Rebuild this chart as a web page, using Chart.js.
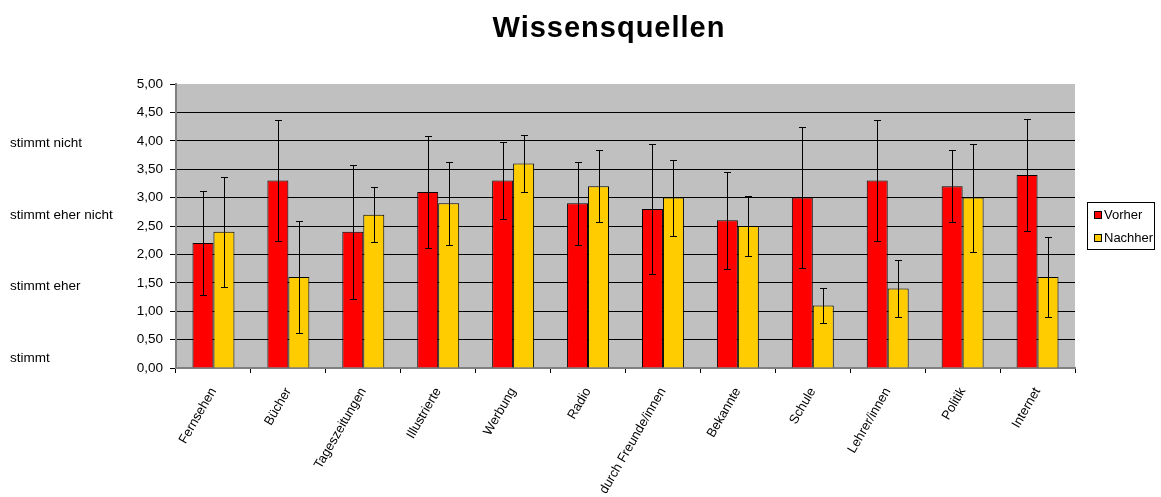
<!DOCTYPE html>
<html>
<head>
<meta charset="utf-8">
<script src="https://cdn.jsdelivr.net/npm/chart.js@4.4.1/dist/chart.umd.min.js"></script>
<style>
  html, body { margin: 0; padding: 0; background: #fff; }
  #wrap { position: relative; width: 1161px; height: 497px; }
</style>
</head>
<body>
<div id="wrap"><canvas id="chart"></canvas></div>
<script>
const FONT = '"Liberation Sans", Arial, sans-serif';

const categories = ['Fernsehen', 'Bücher', 'Tageszeitungen', 'Illustrierte', 'Werbung', 'Radio',
    'durch Freunde/innen', 'Bekannte', 'Schule', 'Lehrer/innen', 'Politik', 'Internet'];

const vorher = [2.2, 3.3, 2.4, 3.1, 3.3, 2.9, 2.8, 2.6, 3.0, 3.3, 3.2, 3.4];
const nachher = [2.4, 1.6, 2.7, 2.9, 3.6, 3.2, 3.0, 2.5, 1.1, 1.4, 3.0, 1.6];

// standard deviations (error bars)
const vorherErr = [0.92, 1.06, 1.18, 0.99, 0.68, 0.73, 1.15, 0.85, 1.24, 1.06, 0.63, 0.98];
const nachherErr = [0.97, 0.98, 0.48, 0.73, 0.51, 0.63, 0.67, 0.52, 0.31, 0.51, 0.95, 0.70];

const yTicks = [0, 0.5, 1, 1.5, 2, 2.5, 3, 3.5, 4, 4.5, 5];

const sideLabels = ['stimmt nicht', 'stimmt eher nicht', 'stimmt eher', 'stimmt'];
const sideLabelY = [143, 215, 286, 358];

const chartTitle = 'Wissensquellen';

const decorPlugin = {
    id: 'decor',
    beforeDraw(chart) {
        const { ctx, chartArea: a } = chart;
        ctx.save();
        ctx.fillStyle = '#C0C0C0';
        ctx.fillRect(a.left, a.top, a.right - a.left, a.bottom - a.top);
        ctx.restore();
    },
    afterDatasetsDraw(chart) {
        const { ctx } = chart;
        const y = chart.scales.y;
        const errs = [vorherErr, nachherErr];
        const vals = [vorher, nachher];
        ctx.save();
        ctx.strokeStyle = '#000';
        ctx.lineWidth = 1;
        chart.data.datasets.forEach((ds, di) => {
            const meta = chart.getDatasetMeta(di);
            meta.data.forEach((bar, i) => {
                const x = Math.round(bar.x) + 0.5;
                const top = Math.round(y.getPixelForValue(vals[di][i] + errs[di][i])) + 0.5;
                const bot = Math.round(y.getPixelForValue(vals[di][i] - errs[di][i])) + 0.5;
                ctx.beginPath();
                ctx.moveTo(x, top); ctx.lineTo(x, bot);
                ctx.moveTo(x - 3.5, top); ctx.lineTo(x + 3.5, top);
                ctx.moveTo(x - 3.5, bot); ctx.lineTo(x + 3.5, bot);
                ctx.stroke();
            });
        });
        ctx.restore();
    },
    afterDraw(chart) {
        const { ctx } = chart;
        ctx.save();
        // title
        ctx.fillStyle = '#000';
        ctx.font = 'bold 29px ' + FONT;
        ctx.textAlign = 'center';
        ctx.textBaseline = 'alphabetic';
        ctx.letterSpacing = '1px';
        ctx.fillText(chartTitle, 609, 37);
        ctx.letterSpacing = '0px';
        // side labels
        ctx.font = '13.5px ' + FONT;
        ctx.textAlign = 'left';
        ctx.textBaseline = 'middle';
        sideLabels.forEach((t, i) => ctx.fillText(t, 10, sideLabelY[i]));
        // legend
        ctx.font = '13px ' + FONT;
        ctx.strokeStyle = '#000';
        ctx.lineWidth = 1;
        ctx.strokeRect(1087.5, 202.5, 67, 47);
        const items = [['Vorher', '#FF0000'], ['Nachher', '#FFCC00']];
        items.forEach(([label, color], i) => {
            const cy = 215 + i * 23;
            ctx.fillStyle = color;
            ctx.fillRect(1094.5, cy - 3.5, 7, 7);
            ctx.strokeRect(1094.5, cy - 3.5, 7, 7);
            ctx.fillStyle = '#000';
            ctx.fillText(label, 1104, cy);
        });
        ctx.restore();
    }
};

new Chart(document.getElementById('chart'), {
    type: 'bar',
    data: {
        labels: categories,
        datasets: [
            { label: 'Vorher', data: vorher, backgroundColor: '#FF0000', borderColor: '#000', borderWidth: 1,
              categoryPercentage: 0.56, barPercentage: 1.0 },
            { label: 'Nachher', data: nachher, backgroundColor: '#FFCC00', borderColor: '#000', borderWidth: 1,
              categoryPercentage: 0.56, barPercentage: 1.0 }
        ]
    },
    options: {
        responsive: true,
        maintainAspectRatio: false,
        animation: false,
        layout: { padding: { top: 84, right: 86, bottom: 0, left: 0 } },
        plugins: {
            legend: { display: false },
            title: { display: false },
            tooltip: { enabled: false }
        },
        scales: {
            x: {
                grid: { offset: true, drawOnChartArea: false, tickLength: 5, tickColor: '#000' },
                border: { color: '#808080', width: 2 },
                ticks: {
                    autoSkip: false, maxRotation: 60, minRotation: 60, padding: 12,
                    color: '#000', font: { family: FONT, size: 13 }
                },
                afterFit(scale) { scale.height = 129; }
            },
            y: {
                min: 0, max: 5,
                afterBuildTicks(scale) { scale.ticks = yTicks.map(v => ({ value: v })); },
                grid: {
                    color: ctx => (ctx.tick && ctx.tick.value === 5) ? 'rgba(0,0,0,0)' : '#000',
                    tickColor: '#000', tickLength: 6, lineWidth: 1
                },
                border: { color: '#808080', width: 2 },
                ticks: {
                    padding: 7, color: '#000', font: { family: FONT, size: 13.5 },
                    callback: v => v.toFixed(2).replace('.', ',')
                },
                afterFit(scale) { scale.width = 176; }
            }
        }
    },
    plugins: [decorPlugin]
});
</script>
</body>
</html>
